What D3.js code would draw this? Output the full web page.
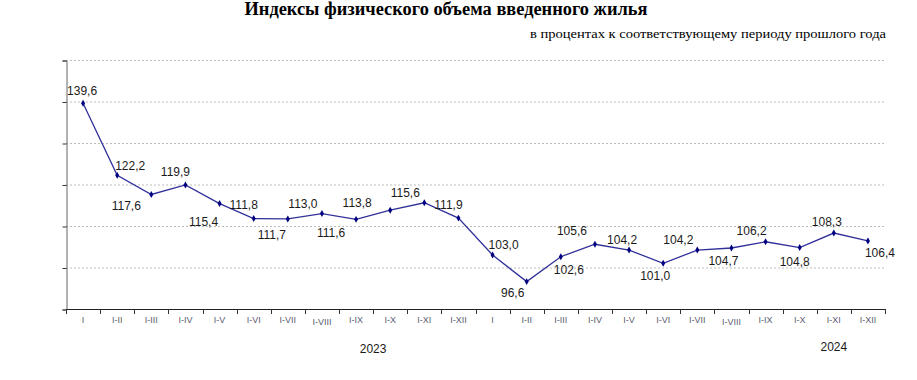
<!DOCTYPE html>
<html>
<head>
<meta charset="utf-8">
<script src="https://cdn.jsdelivr.net/npm/d3@7"></script>
<style>
    body { margin: 0; background: #fff; }
    .data-label { font-family: "Liberation Sans", Arial, sans-serif; font-size: 12px; fill: #1a1a1a; }
    .x-axis text { font-family: "Liberation Sans", Arial, sans-serif; font-size: 9px; fill: #5c5c70; }
</style>
</head>
<body>
<div id="chart"></div>
<script>

// periods (cumulative from January)
let periods = ["I", "I-II", "I-III", "I-IV", "I-V", "I-VI", "I-VII", "I-VIII", "I-IX", "I-X", "I-XI", "I-XII"];
let years = ["2023", "2024"];

// index values, % to same period of previous year
let values2023 = [139.6, 122.2, 117.6, 119.9, 115.4, 111.8, 111.7, 113.0, 111.6, 113.8, 115.6, 111.9];
let values2024 = [103.0, 96.6, 102.6, 105.6, 104.2, 101.0, 104.2, 104.7, 106.2, 104.8, 108.3, 106.4];

let yTicks = [90, 100, 110, 120, 130, 140, 150];

// label offsets (dx, dy) from each point, like the hand-placed labels in the original
let labelOffsets = [
    [-1, -8], [13, -5], [-25, 16], [-10, -9], [-16, 22], [-10, -10],
    [-16, 20], [-19, -6], [-25, 18], [-33, -3], [-19, -6], [-10, -9],
    [11, -6], [-14, 15], [8, 17], [-23, -9], [-7, -6], [-8, 17],
    [-19, -6], [-8, 17], [-14, -7], [-5, 18], [-7, -7], [12, 16]
];

let data = [];
years.forEach((y, i) => {
    let vals = i === 0 ? values2023 : values2024;
    periods.forEach((p, j) => {
        data.push({key: y + "-" + p, year: y, period: p, value: vals[j]});
    });
});

let margin = {top: 60, right: 32, bottom: 71, left: 66};
let width = 917 - margin.left - margin.right;
let height = 380 - margin.top - margin.bottom;

let svg = d3.select("#chart").append("svg")
    .attr("width", 917)
    .attr("height", 380);

// title
svg.append("text")
    .attr("x", 446)
    .attr("y", 15)
    .attr("text-anchor", "middle")
    .attr("textLength", 403)
    .attr("lengthAdjust", "spacingAndGlyphs")
    .style("font-family", "'Liberation Serif', 'Times New Roman', serif")
    .style("font-weight", "bold")
    .style("font-size", "18px")
    .style("fill", "#000")
    .text("Индексы физического объема введенного жилья");

svg.append("text")
    .attr("x", 886)
    .attr("y", 38)
    .attr("text-anchor", "end")
    .attr("textLength", 356)
    .attr("lengthAdjust", "spacingAndGlyphs")
    .style("font-family", "'Liberation Serif', 'Times New Roman', serif")
    .style("font-size", "13px")
    .style("fill", "#000")
    .text("в процентах к соответствующему периоду прошлого года");

let g = svg.append("g")
    .attr("transform", "translate(" + margin.left + "," + margin.top + ")");

let x = d3.scaleBand()
    .domain(data.map(d => d.key))
    .range([0, width]);

let y = d3.scaleLinear()
    .domain([d3.min(yTicks), d3.max(yTicks)])
    .range([height, 0]);

// gridlines
g.selectAll(".grid")
    .data(yTicks.slice(1))
    .enter()
    .append("line")
    .attr("class", "grid")
    .attr("x1", 0)
    .attr("x2", width)
    .attr("y1", d => y(d) + 0.5)
    .attr("y2", d => y(d) + 0.5)
    .attr("stroke", "#bdbdbd")
    .attr("stroke-dasharray", "2,2");

// y axis (no labels)
let yAxis = d3.axisLeft(y)
    .tickValues(yTicks)
    .tickSize(4)
    .tickFormat("");

g.append("g")
    .attr("class", "y-axis")
    .attr("transform", "translate(0.5,0.5)")
    .call(yAxis)
    .call(a => a.select(".domain").attr("stroke", "#666"))
    .call(a => a.selectAll(".tick line").attr("stroke", "#333"));

// x axis: ticks at band boundaries, labels centred in bands
let boundaries = data.map(d => x(d.key)).concat([width]);

let xAxisG = g.append("g")
    .attr("class", "x-axis")
    .attr("transform", "translate(0," + height + ")");

xAxisG.append("line")
    .attr("x1", 0)
    .attr("x2", width)
    .attr("y1", 0.5)
    .attr("y2", 0.5)
    .attr("stroke", "#222");

xAxisG.selectAll(".xtick")
    .data(boundaries)
    .enter()
    .append("line")
    .attr("class", "xtick")
    .attr("x1", d => Math.round(d) + 0.5)
    .attr("x2", d => Math.round(d) + 0.5)
    .attr("y1", 0)
    .attr("y2", 5)
    .attr("stroke", "#333");

xAxisG.selectAll(".xlabel")
    .data(data)
    .enter()
    .append("text")
    .attr("class", "xlabel")
    .attr("x", d => x(d.key) + x.bandwidth() / 2)
    .attr("y", d => d.period === "I-VIII" ? 16 : 14)
    .attr("text-anchor", "middle")
    .text(d => d.period);

// year labels
let yearPos = {"2023": ["2023-I-IX", "2023-I-X"], "2024": ["2024-I-XI", "2024-I-XI"]};
xAxisG.selectAll(".year")
    .data(years)
    .enter()
    .append("text")
    .attr("class", "year")
    .attr("x", d => (x(yearPos[d][0]) + x(yearPos[d][1])) / 2 + x.bandwidth() / 2)
    .attr("y", (d, i) => i === 0 ? 44 : 42)
    .attr("text-anchor", "middle")
    .style("font-size", "12px")
    .style("fill", "#1a1a1a")
    .text(d => d);

// line
let line = d3.line()
    .x(d => x(d.key) + x.bandwidth() / 2)
    .y(d => y(d.value));

g.append("path")
    .datum(data)
    .attr("fill", "none")
    .attr("stroke", "#30309a")
    .attr("stroke-width", 1.3)
    .attr("d", line);

// markers
g.selectAll(".marker")
    .data(data)
    .enter()
    .append("path")
    .attr("class", "marker")
    .attr("d", d3.symbol().type(d3.symbolDiamond).size(14))
    .attr("transform", d => "translate(" + (x(d.key) + x.bandwidth() / 2) + "," + y(d.value) + ")")
    .attr("fill", "#000080");

// data labels
g.selectAll(".data-label")
    .data(data)
    .enter()
    .append("text")
    .attr("class", "data-label")
    .attr("x", (d, i) => x(d.key) + x.bandwidth() / 2 + labelOffsets[i][0])
    .attr("y", (d, i) => y(d.value) + labelOffsets[i][1])
    .attr("text-anchor", "middle")
    .text(d => d3.format(".1f")(d.value).replace(".", ","));

</script>
</body>
</html>
